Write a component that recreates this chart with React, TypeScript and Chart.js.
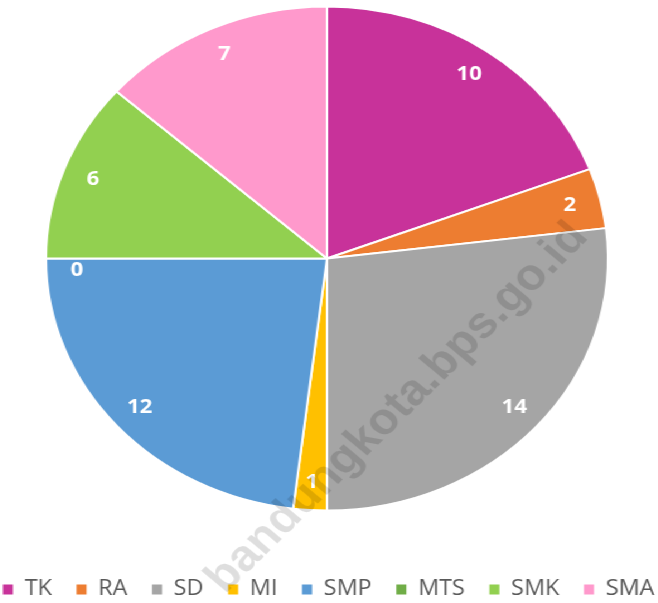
import React, { useEffect, useRef } from "react";
import { Chart, registerables } from "chart.js";

Chart.register(...registerables);

const categories = ["TK", "RA", "SD", "MI", "SMP", "MTS", "SMK", "SMA"];
const values = [10, 2, 14, 1, 12, 0, 6, 7];
const colors = ["#C8329A", "#ED7D31", "#A5A5A5", "#FFC000", "#5B9BD5", "#70AD47", "#92D050", "#FF99CC"];
const watermark = "bandungkota.bps.go.id";

const CANVAS_W = 590;
const CANVAS_H = 603;
const STRETCH = 658 / CANVAS_W;

const labelPlugin = {
  id: "sliceLabels",
  afterDatasetsDraw(chart: any) {
    const ctx = chart.ctx;
    const meta = chart.getDatasetMeta(0);
    ctx.save();
    ctx.fillStyle = "#ffffff";
    ctx.font = "bold 20px 'Open Sans'";
    ctx.textAlign = "center";
    ctx.textBaseline = "middle";
    meta.data.forEach((arc: any, i: number) => {
      const p = arc.getProps(["startAngle", "endAngle", "outerRadius", "x", "y"], true);
      const mid = (p.startAngle + p.endAngle) / 2;
      const r = p.outerRadius * 0.89;
      const x = p.x + Math.cos(mid) * r;
      let y = p.y + Math.sin(mid) * r;
      if (values[i] === 0) y += 12;
      ctx.fillText(String(values[i]), x, y);
    });
    ctx.restore();
  },
};

const watermarkPlugin = {
  id: "watermark",
  afterDraw(chart: any) {
    const ctx = chart.ctx;
    ctx.save();
    ctx.translate(358, 408);
    ctx.rotate((-47.5 * Math.PI) / 180);
    ctx.font = "bold 44px 'Liberation Sans'";
    ctx.fillStyle = "rgba(0,0,0,0.13)";
    ctx.textAlign = "center";
    ctx.textBaseline = "middle";
    ctx.fillText(watermark, 0, 0);
    ctx.restore();
  },
};

const baseGenerateLabels = (Chart as any).overrides.pie.plugins.legend.labels.generateLabels;

export default function App() {
  const ref = useRef<HTMLCanvasElement>(null);
  useEffect(() => {
    if (!ref.current) return;
    const chart = new Chart(ref.current, {
      type: "pie",
      data: {
        labels: categories,
        datasets: [
          {
            data: values,
            backgroundColor: colors,
            borderColor: "#ffffff",
            borderWidth: 2,
            radius: 252,
          },
        ],
      },
      options: {
        responsive: false,
        animation: false,
        layout: { padding: { top: 0, bottom: -7, left: -35.5, right: -38.5 } },
        plugins: {
          tooltip: { enabled: false },
          legend: {
            position: "bottom",
            title: {
              display: true,
              text: " ",
              color: "rgba(0,0,0,0)",
              font: { size: 10, lineHeight: 1.2 },
              padding: { top: 14, bottom: 14 },
            },
            labels: {
              boxWidth: 9,
              boxHeight: 10,
              padding: 22,
              color: "#595959",
              font: { family: "'Open Sans'", size: 21 },
              generateLabels: (c: any) =>
                baseGenerateLabels(c).map((item: any) => ({ ...item, lineWidth: 0, strokeStyle: item.fillStyle })),
            },
          },
        },
      },
      plugins: [labelPlugin, watermarkPlugin],
    });
    return () => chart.destroy();
  }, []);
  return (
    <div
      style={{
        position: "fixed",
        left: -2,
        top: 0,
        width: CANVAS_W,
        height: CANVAS_H,
        transform: `scaleX(${STRETCH})`,
        transformOrigin: "0 0",
        background: "#fff",
      }}
    >
      <canvas ref={ref} width={CANVAS_W} height={CANVAS_H} />
    </div>
  );
}
